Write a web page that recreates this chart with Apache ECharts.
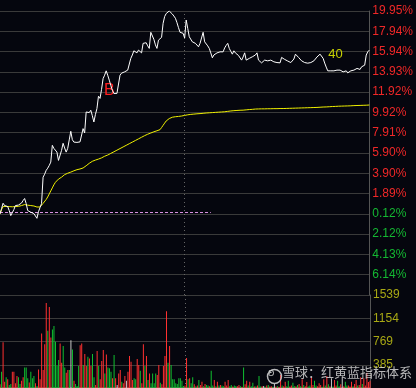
<!DOCTYPE html>
<html><head><meta charset="utf-8">
<script src="https://cdn.jsdelivr.net/npm/echarts@6/dist/echarts.min.js"></script>
<style>html,body{margin:0;padding:0;background:#05060e;}#c{width:416px;height:388px;}</style>
</head><body><div id="c"></div>
<script>
// ---- data ----
const pctTickLabels = ['', '6.14%', '4.13%', '2.12%', '0.12%', '1.89%', '3.90%', '5.90%', '7.91%', '9.92%', '11.92%', '13.93%', '15.94%', '17.94%', '19.95%'];
const volTickLabels = ['', '385', '769', '1154', '1539'];
const price = [
-0.12,0.40,0.93,0.70,0.54,0.60,0.20,-0.29,0.00,0.30,
0.70,0.55,0.75,0.87,0.95,1.20,1.40,0.90,0.21,0.30,
0.04,0.10,-0.09,-0.20,-0.56,0.10,0.50,0.90,3.51,3.80,
4.18,4.40,4.67,5.00,6.66,6.36,6.20,5.99,5.17,5.17,
6.16,6.86,6.40,5.99,6.36,7.20,8.05,7.22,6.98,7.10,
6.95,6.88,7.00,7.15,8.31,7.88,9.96,9.80,9.90,10.13,
9.60,8.97,9.70,10.30,11.52,11.30,12.20,13.27,13.60,14.03,
13.60,13.11,12.60,12.11,11.79,11.85,11.80,11.85,13.60,13.80,
13.93,13.93,14.10,14.10,14.27,15.26,15.60,16.01,15.90,15.81,
16.08,16.00,15.81,16.75,16.80,16.81,16.50,16.25,17.84,17.74,
17.14,16.60,16.25,17.07,17.20,17.34,18.73,19.40,19.70,19.88,
19.95,19.85,19.65,19.45,19.23,18.80,18.30,17.84,17.80,17.74,
17.27,19.06,18.23,17.40,17.24,16.90,17.07,16.75,16.81,16.41,
16.75,16.80,17.84,16.90,16.75,16.50,16.25,15.80,15.32,15.60,
15.68,15.80,15.91,15.91,15.95,15.91,16.30,16.55,16.75,16.25,
15.95,15.68,16.01,15.80,15.68,15.55,15.49,15.09,15.40,15.81,
15.09,15.20,15.26,15.30,15.42,15.42,15.60,15.81,15.09,15.00,
14.82,15.00,15.09,15.02,15.02,15.05,15.09,15.00,14.92,14.92,
14.85,14.79,14.82,15.36,15.25,15.16,15.10,15.00,14.92,14.85,
14.82,15.20,15.68,15.50,15.36,15.20,15.02,14.95,14.85,14.82,
14.79,14.76,14.85,14.95,15.02,15.20,15.40,15.59,15.68,15.50,
15.26,14.80,14.40,14.03,14.03,14.03,14.10,14.03,14.03,14.10,
14.17,14.10,14.03,13.93,14.03,14.03,13.83,13.93,14.03,14.03,
14.10,14.10,14.27,14.17,14.17,14.43,14.50,14.59,15.59,15.91,
16.08];
const avgPrice = [
-0.12,0.30,0.60,0.62,0.62,0.62,0.60,0.58,0.58,0.58,
0.60,0.60,0.62,0.64,0.70,0.76,0.80,0.78,0.74,0.70,
0.70,0.68,0.66,0.62,0.56,0.54,0.56,0.70,0.92,1.10,
1.30,1.55,1.85,2.15,2.45,2.75,3.00,3.18,3.32,3.42,
3.51,3.64,3.76,3.84,3.90,3.95,4.01,4.08,4.14,4.20,
4.25,4.28,4.32,4.35,4.42,4.52,4.64,4.76,4.88,5.00,
5.08,5.14,5.20,5.25,5.30,5.34,5.42,5.50,5.58,5.64,
5.70,5.78,5.86,5.94,6.02,6.10,6.18,6.26,6.34,6.42,
6.50,6.58,6.66,6.74,6.82,6.90,6.98,7.06,7.14,7.22,
7.30,7.38,7.46,7.54,7.62,7.70,7.76,7.82,7.88,7.94,
8.00,8.05,8.10,8.15,8.21,8.42,8.64,8.86,9.07,9.20,
9.31,9.40,9.44,9.47,9.49,9.51,9.52,9.53,9.56,9.59,
9.62,9.65,9.68,9.70,9.72,9.74,9.75,9.76,9.78,9.79,
9.80,9.82,9.83,9.85,9.86,9.87,9.88,9.89,9.90,9.91,
9.92,9.93,9.94,9.95,9.96,9.96,9.98,10.00,10.02,10.04,
10.06,10.08,10.09,10.10,10.11,10.12,10.13,10.13,10.14,10.15,
10.17,10.18,10.20,10.21,10.22,10.24,10.25,10.26,10.26,10.26,
10.27,10.27,10.27,10.28,10.28,10.28,10.28,10.29,10.29,10.29,
10.29,10.30,10.30,10.30,10.30,10.31,10.31,10.32,10.32,10.33,
10.33,10.34,10.34,10.35,10.35,10.36,10.36,10.37,10.37,10.37,
10.38,10.38,10.39,10.39,10.40,10.40,10.41,10.42,10.43,10.44,
10.45,10.46,10.46,10.47,10.48,10.49,10.50,10.50,10.51,10.52,
10.53,10.53,10.54,10.54,10.55,10.55,10.56,10.56,10.57,10.58,
10.59,10.60,10.60,10.61,10.61,10.62,10.62,10.63,10.63,10.64,
10.65];
const volume = [
60,270,759,105,176,143,50,66,270,270,
77,198,176,66,121,176,341,341,160,90,
270,160,198,77,33,308,143,902,297,726,
1408,946,1342,836,968,1028,765,363,462,737,
418,693,341,253,297,297,792,638,121,66,
33,363,709,737,380,561,363,517,490,363,
561,176,50,611,363,143,446,627,242,556,
341,325,270,160,545,160,50,242,297,105,
77,198,121,270,528,435,132,160,143,479,
380,286,77,726,363,528,132,242,77,242,
77,242,215,380,88,60,363,528,1270,418,
693,380,143,143,77,66,160,160,121,33,
40,495,143,160,80,176,60,30,40,132,
50,105,30,66,50,40,30,286,40,132,
30,105,40,50,40,30,105,40,132,30,
50,25,40,33,30,50,30,20,341,60,
121,40,105,30,88,25,30,40,198,25,
30,33,20,40,50,25,30,20,66,25,
30,20,215,40,30,105,30,121,25,40,
88,30,30,50,66,30,143,50,30,99,
25,40,176,50,121,40,30,77,50,20,
143,40,198,60,30,160,25,132,40,121,
30,60,187,30,105,40,40,25,105,30,
66,132,40,50,176,66,160,40,253,100,
120];
// tick direction of each minute: 1 up, -1 down, 0 flat
const volDir = [
1,-1,1,1,-1,1,-1,-1,1,1,
1,1,-1,-1,1,1,-1,-1,-1,1,
-1,-1,-1,1,-1,1,1,1,1,1,
1,-1,1,1,-1,-1,-1,-1,-1,1,
1,-1,-1,1,1,-1,0,-1,1,-1,
-1,-1,1,1,-1,1,1,-1,1,1,
-1,-1,1,1,-1,1,1,1,-1,1,
-1,-1,-1,1,-1,1,0,1,1,-1,
1,1,0,1,1,1,1,-1,-1,1,
1,-1,1,1,-1,1,-1,1,-1,-1,
-1,-1,1,1,-1,1,1,1,1,-1,
1,-1,-1,-1,-1,-1,-1,-1,-1,-1,
1,1,-1,1,-1,-1,1,-1,1,-1,
1,1,-1,1,-1,-1,1,-1,-1,1,
-1,1,-1,1,-1,-1,1,1,1,-1,
-1,1,-1,-1,1,1,-1,1,-1,1,
1,-1,1,-1,-1,1,-1,1,-1,-1,
1,0,-1,1,-1,1,1,-1,0,1,
-1,1,1,-1,1,1,-1,-1,1,1,
-1,-1,1,-1,1,-1,1,-1,1,1,
-1,-1,1,1,-1,-1,1,1,1,-1,
1,-1,1,-1,1,0,-1,1,1,-1,
-1,1,0,1,-1,-1,1,1,1,-1,
1,1,-1,1,1,-1,1,1,1,1,
1];
const minutes = Array.from({length: price.length}, (_, i) => String(i));

// ---- scale helpers (axis in tick units so ticks land exactly on the labelled levels) ----
const PCT_TOP = 19.95, PCT_LOW = -6.14;
const STEP = (PCT_TOP - PCT_LOW) / 13;
const PCT_MIN = PCT_LOW - STEP;
const toU = p => (p - PCT_MIN) / STEP;

const RED = '#f02828', GREEN = '#14b832', OLIVE = '#a8a814';
const dirColor = d => d > 0 ? '#ff3030' : (d < 0 ? '#10c030' : '#c8c8c8');

const chart = echarts.init(document.getElementById('c'), null, {renderer: 'canvas'});
const labelFont = {fontFamily: 'Liberation Sans', fontSize: 12};
chart.setOption({
  backgroundColor: '#05060e',
  animation: false,
  grid: [
    {left: 0, right: 46, top: 11, height: 284},
    {left: 0, right: 46, top: 295, height: 93}
  ],
  xAxis: [
    {type: 'category', gridIndex: 0, data: minutes, boundaryGap: false,
     axisLine: {show: false}, axisTick: {show: false}, axisLabel: {show: false}, splitLine: {show: false}},
    {type: 'category', gridIndex: 1, data: minutes, boundaryGap: false, position: 'top',
     axisLine: {show: true, lineStyle: {color: '#585858', width: 2}}, axisTick: {show: false},
     axisLabel: {show: false}, splitLine: {show: false}}
  ],
  yAxis: [
    {type: 'value', gridIndex: 0, position: 'right', min: 0, max: 14, interval: 1,
     axisLine: {show: true, lineStyle: {color: '#555'}}, axisTick: {show: false},
     splitLine: {show: true, lineStyle: {color: '#3a3a3a', width: 1}},
     axisLabel: {show: true, margin: 3, ...labelFont,
       formatter: v => { const k = Math.round(v); const t = pctTickLabels[k] || ''; if (!t) return ''; return (k <= 4 ? '{g|' : '{r|') + t + '}'; },
       rich: {g: {color: GREEN, ...labelFont}, r: {color: RED, ...labelFont}}}},
    {type: 'value', gridIndex: 1, position: 'right', min: 0, max: 1539, interval: 384.75,
     axisLine: {show: true, lineStyle: {color: '#555'}}, axisTick: {show: false},
     splitLine: {show: true, lineStyle: {color: '#3a3a3a', width: 1}},
     axisLabel: {show: true, margin: 3, color: OLIVE, ...labelFont,
       formatter: v => volTickLabels[Math.round(v / 384.75)] || ''}}
  ],
  series: [
    {type: 'line', name: 'price', xAxisIndex: 0, yAxisIndex: 0, data: price.map(toU),
     symbol: 'none', lineStyle: {color: '#ffffff', width: 1}, z: 5,
     markLine: {silent: true, symbol: ['none', 'none'], label: {show: false},
       data: [
         [{coord: ['0', toU(0)], lineStyle: {color: '#d890e0', type: [3, 2], width: 1}},
          {coord: ['137', toU(0)]}],
         {xAxis: '120', lineStyle: {color: '#666', type: [1, 3], width: 1}}
       ]},
     markPoint: {silent: true, symbol: 'circle', symbolSize: 1, itemStyle: {color: 'rgba(0,0,0,0)'},
       data: [
         {coord: ['71', toU(12.06)], label: {show: true, position: 'inside', formatter: 'B', color: '#ff2020', fontSize: 16, fontFamily: 'Liberation Sans'}},
         {coord: ['218', toU(15.63)], label: {show: true, position: 'inside', formatter: '40', color: '#c8d200', fontSize: 13, fontFamily: 'Liberation Sans'}}
       ]}},
    {type: 'line', name: 'avg', xAxisIndex: 0, yAxisIndex: 0, data: avgPrice.map(toU),
     symbol: 'none', lineStyle: {color: '#f0f000', width: 1}, z: 4},
    {type: 'bar', name: 'vol', xAxisIndex: 1, yAxisIndex: 1, barWidth: 1,
     data: volume.map((v, i) => ({value: v, itemStyle: {color: dirColor(volDir[i])}})),
     markLine: {silent: true, symbol: ['none', 'none'], label: {show: false},
       data: [{xAxis: '120', lineStyle: {color: '#666', type: [1, 3], width: 1}}]}}
  ],
  graphic: [
    {type: 'circle', left: 265, top: 367, shape: {r: 7}, style: {fill: 'none', stroke: 'rgba(215,215,215,0.85)', lineWidth: 1.5}, z: 100},
    {type: 'text', left: 268, top: 368, style: {text: 'ʚ', fill: 'rgba(215,215,215,0.85)', font: '10px "DejaVu Sans"'}, z: 100},
    {type: 'text', left: 282, top: 366, style: {text: '雪球：红黄蓝指标体系', fill: 'rgba(215,215,215,0.85)', font: '13px "Noto Sans CJK SC"'}, z: 100}
  ]
});
</script></body></html>
